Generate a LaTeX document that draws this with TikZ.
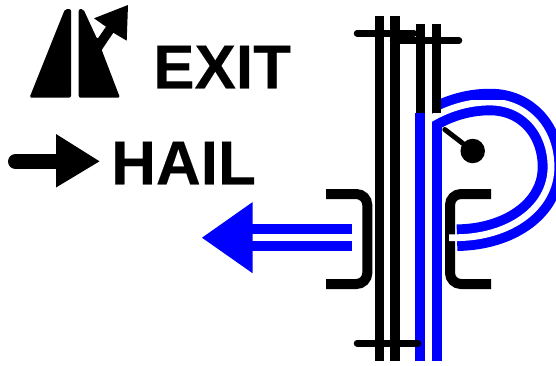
\documentclass[tikz,border=0pt]{standalone}
\usepackage{fontspec}
\setmainfont{Liberation Sans}[BoldFeatures={FakeBold=0.3}]
\tikzset{
  label text/.style={font=\fontsize{62}{62}\selectfont\bfseries,inner sep=0pt,anchor=base west,text=black},
  rail/.style={line width=9.2pt,black},
  tie/.style={line width=6.5pt,black,line cap=round},
  bracket/.style={line width=10pt,black,rounded corners=11pt},
  bluerail/.style={line width=26.5pt,blue},
  whitecore/.style={line width=6.8pt,white},
}
\begin{document}
\begin{tikzpicture}[x=1pt,y=-1pt]
\useasboundingbox (0,0) rectangle (556,365);
% icon
\fill[black,rounded corners=2pt] (29.5,97.7) -- (71,97.7) -- (71,9) -- (65,9) -- cycle;
\fill[black,rounded corners=2pt] (78.7,97.7) -- (78.7,9) -- (83.3,9) -- (97.3,39.3) [sharp corners] -- (106,26.7) -- (94,18.3) -- (128,5) -- (126.7,40.7) -- (113.3,32.7) -- (101.7,50) [rounded corners=2pt] -- (120,97.7) -- cycle;
\node[label text] (exit) at (153,88.3) {EXIT};
% hail arrow
\coordinate (hs) at (15.5,161.5);
\coordinate (he) at (60,161.5);
\draw[black,line width=15pt,line cap=round] (hs) -- (he);
\fill[black] (56,134) -- (99.5,161.3) -- (56,187.5) -- cycle;
\node[label text] (hail) at (111,184.3) {HAIL};
% brackets
\draw[bracket] (326,194) -- (367.3,194) -- (367.3,284) -- (326,284);
\draw[bracket] (491,194) -- (450,194) -- (450,284) -- (491,284);
% black rails
\draw[rail] (379.2,16) -- (379.2,361);
\draw[rail] (395,16) -- (395,361);
% blue route: straight part
\draw[bluerail] (428.5,361) -- (428.5,113);
\draw[whitecore] (428.5,361) -- (428.5,113);
% blue route: curved part
\begin{scope}
\clip (432.8,60) rectangle (556,260);
\draw[bluerail] (425,122) .. controls (445,109) and (467,102) .. (490,102) .. controls (526,102) and (551,130) .. (551,167) .. controls (551,208) and (510,237) .. (457,237.7);
\end{scope}
\begin{scope}
\clip (428,100) rectangle (556,260);
\draw[whitecore] (425,122) .. controls (445,109) and (467,102) .. (490,102) .. controls (526,102) and (551,130) .. (551,167) .. controls (551,208) and (510,237) .. (457,237.7) -- (449,237.7);
\end{scope}
% upper black rails
\draw[rail] (420.2,24) -- (420.2,113);
\draw[rail] (436.8,24) -- (436.8,113);
% ties
\draw[tie] (357,33.3) -- (414,33.3);
\draw[tie] (393,40.7) -- (459,40.7);
\draw[tie] (357,343.3) -- (418,343.3);
% signal
\node[circle,fill=black,minimum size=24.5pt,inner sep=0pt] (dot) at (472.7,151) {};
\coordinate (post) at (444.8,129.5);
\draw[black,line width=5pt,line cap=round] (post) -- (dot);
% blue arrow
\draw[bluerail] (352,237.5) -- (250,237.5);
\draw[whitecore] (352,237.5) -- (250,237.5);
\fill[blue] (202,237.7) -- (252.7,202) -- (252.7,273.3) -- cycle;
\end{tikzpicture}
\end{document}
